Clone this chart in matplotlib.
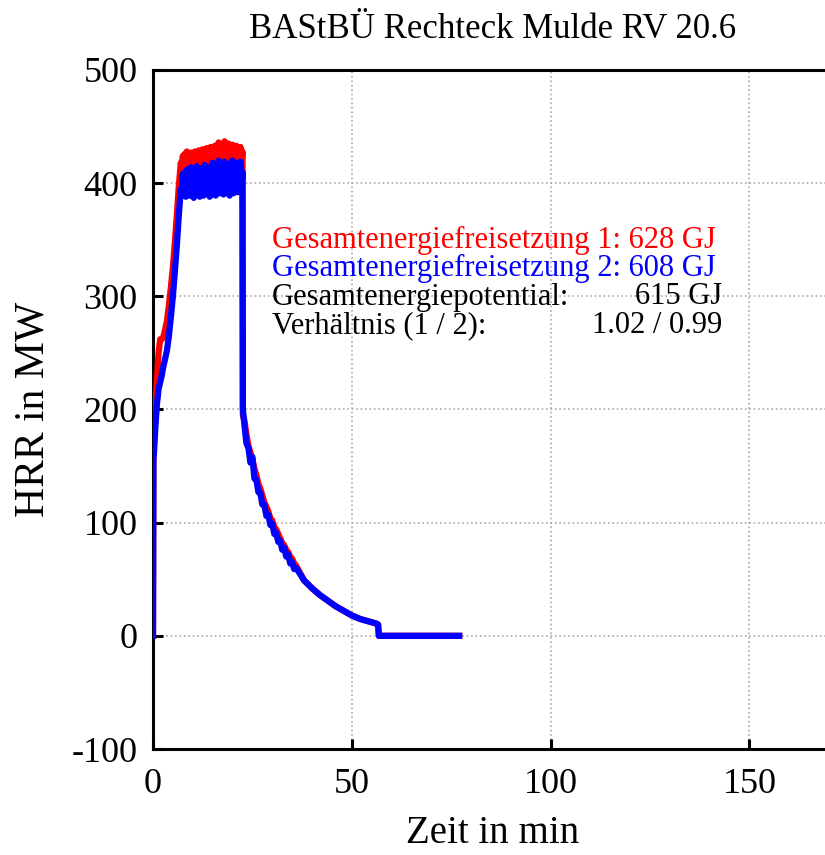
import matplotlib
matplotlib.use("Agg")
import matplotlib.pyplot as plt
import matplotlib.ticker as ticker

plt.rcParams["font.family"] = ["Liberation Serif", "DejaVu Serif"]
plt.rcParams["axes.unicode_minus"] = False

# ---------------------------------------------------------------------------
# Data
# ---------------------------------------------------------------------------

TITLE = "BAStBÜ Rechteck Mulde RV 20.6"

# rise phase
t_rise = [0, 0.1, 0.3, 0.6, 1.0, 1.4, 1.8, 2.2, 2.6, 3.0, 3.5, 4.0, 4.5,
          5.0, 5.5, 6.0, 6.5, 7.0]
hrr1_rise = [0, 165, 180, 205, 228, 250, 262, 262, 264, 270, 278, 292, 308,
             326, 348, 372, 398, 418]
hrr2_rise = [0, 155, 165, 185, 205, 218, 224, 230, 238, 244, 252, 265, 282,
             300, 322, 345, 372, 395]

# plateau, 0.25 min steps from 7.25 to 22.5
t_plateau = [7.25 + 0.25 * i for i in range(62)]
hrr1_plateau = [412, 424, 410, 426, 414, 428, 411, 425, 415, 427,
                413, 426, 410, 428, 416, 425, 412, 429, 414, 427,
                411, 430, 415, 428, 413, 431, 416, 429, 412, 432,
                415, 430, 413, 433, 417, 431, 414, 436, 416, 432,
                413, 434, 417, 437, 415, 433, 418, 435, 414, 432,
                416, 434, 413, 431, 417, 433, 415, 430, 414, 432,
                416, 428]
hrr2_plateau = [395, 408, 390, 410, 388, 412, 392, 406, 389, 414,
                391, 409, 387, 411, 393, 415, 390, 408, 388, 413,
                392, 410, 389, 416, 391, 409, 393, 414, 388, 411,
                390, 418, 392, 412, 389, 415, 394, 420, 391, 413,
                393, 416, 390, 419, 395, 412, 392, 417, 389, 414,
                393, 420, 391, 415, 394, 418, 392, 413, 395, 419,
                393, 410]

# decay phase
t_decay = [22.6, 23.0, 23.5, 24.0, 24.5, 25.0, 25.5, 26.0, 26.5, 27.0, 27.5,
           28.0, 28.5, 29.0, 29.5, 30.0, 30.5, 31.0, 31.5, 32.0, 32.5, 33.0,
           33.5, 34.0, 34.5, 35.0, 35.5, 36.0, 38, 40, 42, 44, 46, 48, 50,
           52, 54, 56, 56.6, 56.8, 60, 65, 70, 77]
hrr1_decay = [195, 190, 178, 168, 162, 156, 148, 142, 134, 130, 124,
              118, 114, 110, 104, 102, 96, 94, 90, 86, 82, 80,
              76, 74, 70, 68, 64, 62, 49, 42, 36, 31, 26, 22, 18,
              15, 13, 11, 10, 0, 0, 0, 0, 0]
hrr2_decay = [200, 186, 170, 166, 153, 158, 139, 138, 127, 126, 116,
              116, 106, 107, 98, 99, 90, 91, 83, 84, 76, 78,
              70, 72, 64, 65, 59, 60, 49, 42, 36, 31, 26, 22, 18,
              15, 13, 11, 10, 0, 0, 0, 0, 0]

time_min = t_rise + t_plateau + t_decay
hrr_1 = hrr1_rise + hrr1_plateau + hrr1_decay
hrr_2 = hrr2_rise + hrr2_plateau + hrr2_decay

x_ticks = [0, 50, 100, 150]
y_ticks = [-100, 0, 100, 200, 300, 400, 500]

info_labels = ["Gesamtenergiefreisetzung 1: 628 GJ",
               "Gesamtenergiefreisetzung 2: 608 GJ",
               "Gesamtenergiepotential:",
               "Verhältnis (1 / 2):"]
info_values = ["", "", "615 GJ", "1.02 / 0.99"]
info_colors = ["#ff0000", "#0000ff", "black", "black"]

# ---------------------------------------------------------------------------
# Figure
# ---------------------------------------------------------------------------

fig = plt.figure(figsize=(8.25, 8.55), dpi=100)
ax = fig.add_axes([153 / 825, 106 / 855, 680 / 825, 679 / 855])

ax.plot(time_min, hrr_1, color="#ff0000", linewidth=4.5, zorder=3)
ax.plot(time_min, hrr_2, color="#0000ff", linewidth=4.5, zorder=4)

ax.set_xlim(0, 171)
ax.set_ylim(-100, 500)
ax.xaxis.set_major_locator(ticker.FixedLocator(x_ticks))
ax.yaxis.set_major_locator(ticker.FixedLocator(y_ticks))

ax.grid(True, color="#aaaaaa", linestyle=":", linewidth=1.2)
ax.set_axisbelow(True)
for spine in ax.spines.values():
    spine.set_linewidth(2.2)
ax.tick_params(direction="in", length=7, width=2.2, labelsize=26)
ax.tick_params(axis="y", pad=11)
ax.tick_params(axis="x", pad=14)

ax.set_title(TITLE, fontsize=25, pad=23)
ax.set_xlabel("Zeit in min", fontsize=28, labelpad=10)
ax.set_ylabel("HRR in MW", fontsize=30, labelpad=14)

# annotation block (axes fractions)
x_left, x_right = 119 / 680, 569 / 680
y_top, dy = 509 / 679, 28.5 / 679
for i, (lab, val, col) in enumerate(zip(info_labels, info_values, info_colors)):
    y = y_top - i * dy
    ax.text(x_left, y, lab, color=col, fontsize=22, va="center",
            ha="left", transform=ax.transAxes, zorder=5)
    if val:
        ax.text(x_right, y, val, color=col, fontsize=22, va="center",
                ha="right", transform=ax.transAxes, zorder=5)

fig.savefig("out.png", dpi=100, facecolor="white")
